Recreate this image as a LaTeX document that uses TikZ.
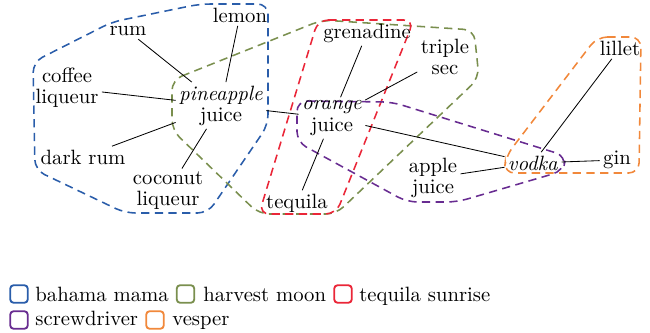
\documentclass[tikz,border=0pt]{standalone}
\begin{document}
\begin{tikzpicture}[x=0.4831pt,y=-0.4831pt,
  lbl/.style={inner sep=1.5pt,align=center,font=\fontsize{10}{10.2}\selectfont},
  hull/.style={line width=0.75pt,dash pattern=on 4pt off 2.6pt,rounded corners=5pt},
  conn/.style={draw=black,line width=0.4pt},
  legbox/.style={draw=#1,line width=0.9pt,rounded corners=1.5pt,minimum size=8.4pt,inner sep=0pt},
  legtxt/.style={anchor=base west,inner sep=0pt,font=\fontsize{10}{12}\selectfont}]
\definecolor{cblue}{RGB}{42,93,170}
\definecolor{cgreen}{RGB}{122,143,78}
\definecolor{cred}{RGB}{234,38,56}
\definecolor{cpurple}{RGB}{104,44,145}
\definecolor{corange}{RGB}{241,136,59}
\useasboundingbox (0,0) rectangle (650,333);
% hulls
\draw[hull,cblue] (268,4) -- (268,125) -- (208,213) -- (125,213) -- (35,170) -- (33,62) -- (112,22) -- (200,4) -- cycle;
\draw[hull,cgreen] (172,80) -- (322,20) -- (474,30) -- (479,78) -- (336,214) -- (259,214) -- (172,130) -- cycle;
\draw[hull,cred] (318,20) -- (414,20) -- (336,214) -- (259,214) -- cycle;
\draw[hull,cpurple] (297,101) -- (392,102) -- (566,156) -- (563,171) -- (457,202) -- (407,202) -- (297,142) -- cycle;
\draw[hull,corange] (597,37) -- (641,37) -- (639,173) -- (504,173) -- (506,156) -- cycle;
% nodes
\node[lbl] (rum) at (128,31) {rum};
\node[lbl] (lemon) at (240,15) {lemon};
\node[lbl] (coffee) at (67,88) {coffee\\liqueur};
\node[lbl] (pine) at (221,105.5) {\textit{pineapple}\\juice};
\node[lbl] (dark) at (83,157) {dark rum};
\node[lbl] (coconut) at (168,191) {coconut\\liqueur};
\node[lbl] (gren) at (367,33) {grenadine};
\node[lbl] (triple) at (445,57) {triple\\sec};
\node[lbl] (orange) at (332,118) {\textit{orange}\\juice};
\node[lbl] (tequila) at (297,203) {tequila};
\node[lbl] (apple) at (433,178) {apple\\juice};
\node[lbl] (vodka) at (533,163) {\textit{vodka}};
\node[lbl] (lillet) at (620,48) {lillet};
\node[lbl] (gin) at (617,160) {gin};
% connectors
\draw[conn] (rum) -- (pine);
\draw[conn] (lemon) -- (pine);
\draw[conn] (coffee) -- (pine);
\draw[conn] (dark) -- (pine);
\draw[conn] (coconut) -- (pine);
\draw[conn] (pine) -- (orange);
\draw[conn] (gren) -- (orange);
\draw[conn] (triple) -- (orange);
\draw[conn] (tequila) -- (orange);
\draw[conn] (orange) -- (vodka);
\draw[conn] (apple) -- (vodka);
\draw[conn] (lillet) -- (vodka);
\draw[conn] (gin) -- (vodka);
% legend
\node[legbox=cblue] (lb1) at (19,294) {};
\node[legtxt] (lt1) at (35,301) {bahama mama};
\node[legbox=cgreen] (lb2) at (185.5,294) {};
\node[legtxt] (lt2) at (203,301) {harvest moon};
\node[legbox=cred] (lb3) at (343,294) {};
\node[legtxt] (lt3) at (359,301) {tequila sunrise};
\node[legbox=cpurple] (lb4) at (19,320) {};
\node[legtxt] (lt4) at (35,325) {screwdriver};
\node[legbox=corange] (lb5) at (155,320) {};
\node[legtxt] (lt5) at (172,325) {vesper};
\end{tikzpicture}
\end{document}
